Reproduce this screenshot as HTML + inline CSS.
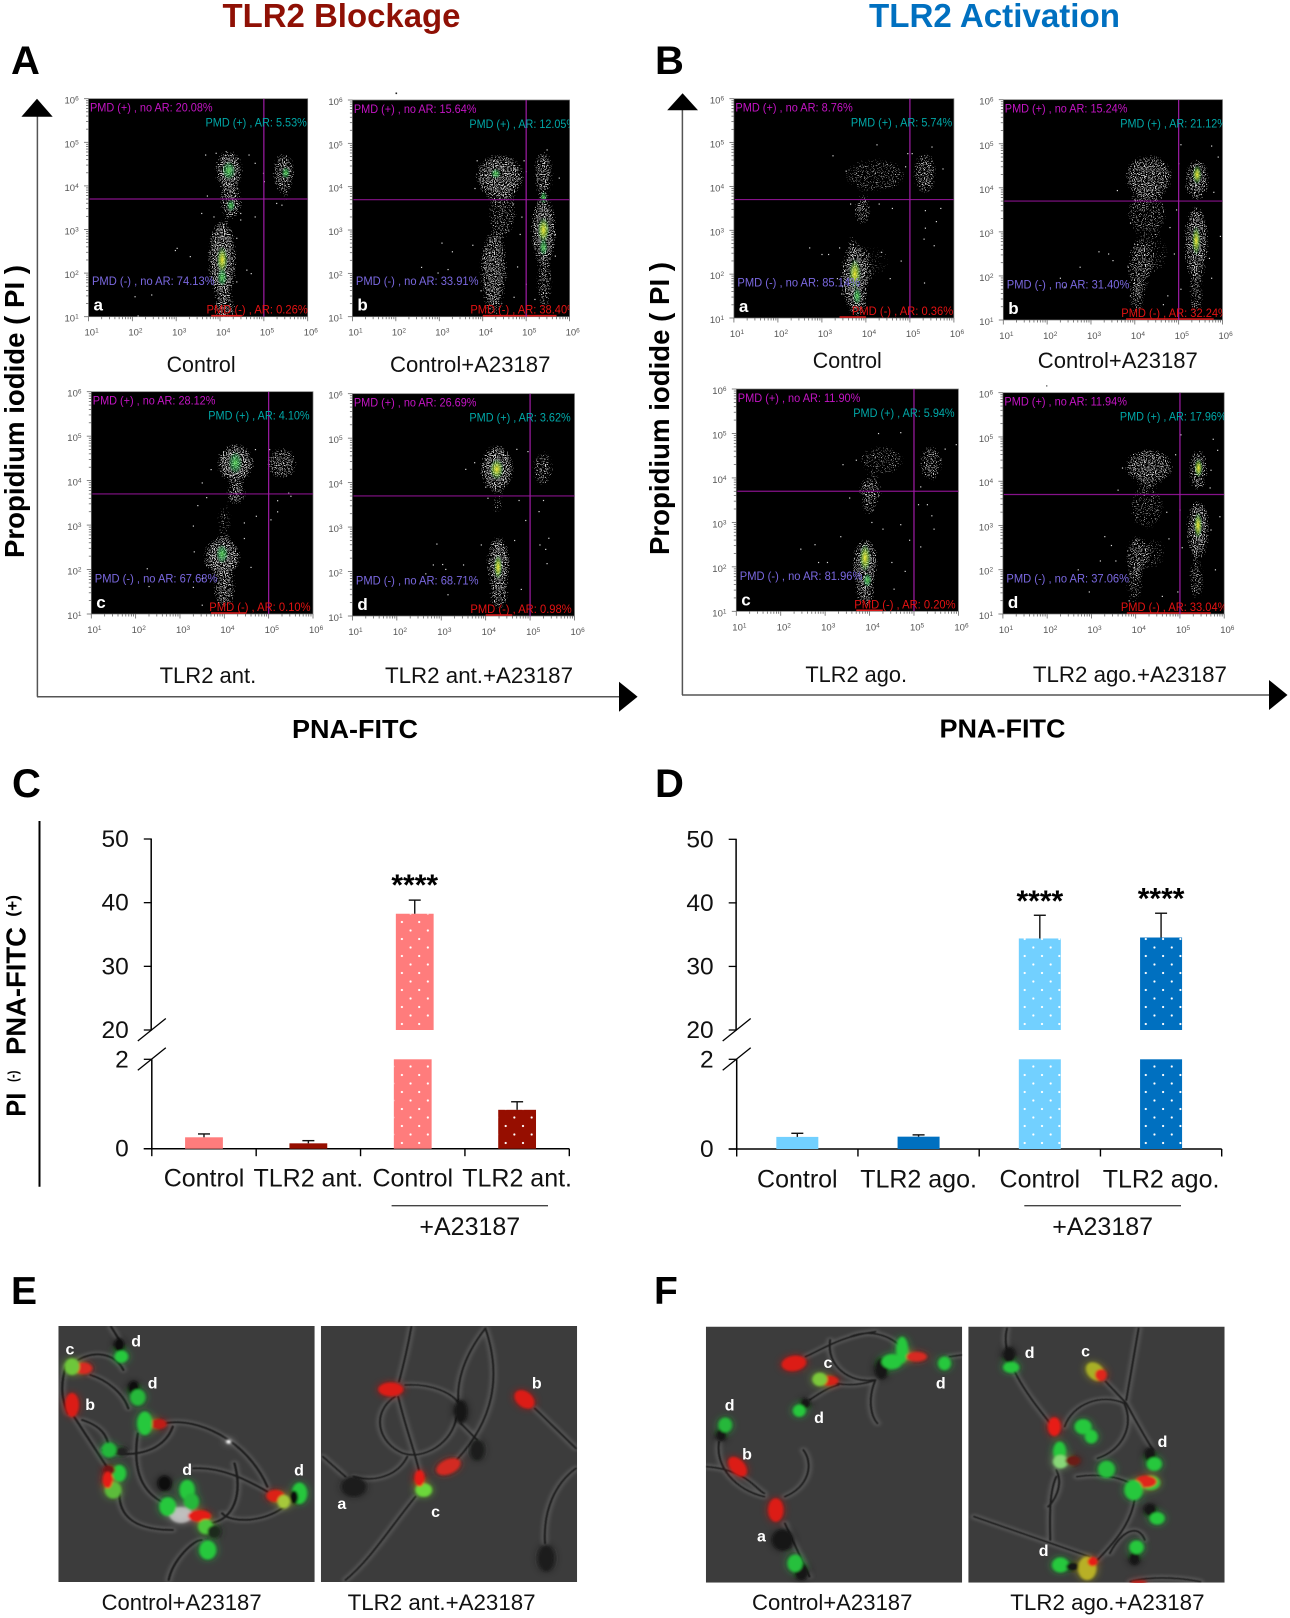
<!DOCTYPE html>
<html lang="en">
<head>
<meta charset="utf-8">
<title>TLR2 Blockage and Activation figure</title>
<style>
html,body{margin:0;padding:0;background:#fff;}
svg{display:block;}
text{font-family:"Liberation Sans",sans-serif;}
</style>
</head>
<body>
<svg id="figure" xmlns="http://www.w3.org/2000/svg" width="1290" height="1618" viewBox="0 0 1290 1618">
<defs>
  <filter id="speckle" x="-30%" y="-30%" width="160%" height="160%" color-interpolation-filters="sRGB">
    <feGaussianBlur in="SourceGraphic" stdDeviation="4" result="blob"/>
    <feTurbulence type="fractalNoise" baseFrequency="0.9" numOctaves="1" seed="11" result="noise"/>
    <feColorMatrix in="noise" type="matrix" values="0 0 0 0 0.8  0 0 0 0 0.8  0 0 0 0 0.8  3.2 0 0 0 -1.33" result="dots"/>
    <feComposite in="dots" in2="blob" operator="in" result="masked"/>
    <feComponentTransfer in="masked"><feFuncA type="linear" slope="8" intercept="-2.4"/></feComponentTransfer>
  </filter>
  <radialGradient id="hot-green"><stop offset="0" stop-color="#5fe05a" stop-opacity=".85"/><stop offset=".6" stop-color="#2fc85a" stop-opacity=".4"/><stop offset="1" stop-color="#2fc85a" stop-opacity="0"/></radialGradient>
  <radialGradient id="hot-yellow"><stop offset="0" stop-color="#f6ee30" stop-opacity=".95"/><stop offset=".5" stop-color="#a4e040" stop-opacity=".6"/><stop offset="1" stop-color="#2fc85a" stop-opacity="0"/></radialGradient>
  <pattern id="bar-dots" patternUnits="userSpaceOnUse" width="17.3" height="17"><circle cx="4" cy="4" r="1.1" fill="#fff"/><circle cx="12.65" cy="12.5" r="1.1" fill="#fff"/></pattern>
  <filter id="soft" x="-20%" y="-20%" width="140%" height="140%">
    <feGaussianBlur in="SourceGraphic" stdDeviation="11" result="glow"/>
    <feGaussianBlur in="SourceGraphic" stdDeviation="3" result="core"/>
    <feComponentTransfer in="glow" result="glowDim"><feFuncA type="linear" slope=".75"/></feComponentTransfer>
    <feMerge><feMergeNode in="glowDim"/><feMergeNode in="core"/></feMerge>
  </filter>
  <filter id="soft-wide" x="-5%" y="-5%" width="110%" height="110%"><feGaussianBlur stdDeviation="5"/></filter>
  <filter id="tail-blur" x="-5%" y="-5%" width="110%" height="110%"><feGaussianBlur stdDeviation="1.4"/></filter>
  <clipPath id="clip-e1"><rect x="142" y="198" width="623" height="768"/></clipPath>
  <clipPath id="clip-e2"><rect x="780" y="198" width="623" height="768"/></clipPath>
  <clipPath id="clip-f1"><rect x="148" y="200" width="623" height="768"/></clipPath>
  <clipPath id="clip-f2"><rect x="786" y="200" width="623" height="768"/></clipPath>
  <g id="tails-e1" fill="none" stroke-linecap="round">
    <path d="M190,300 C230,270 280,280 300,330"/><path d="M220,345 C260,360 300,400 312,445"/><path d="M400,490 C480,470 600,540 650,680"/><path d="M180,470 L270,640"/><path d="M335,520 C320,640 350,700 400,730"/><path d="M470,625 C540,620 600,660 650,695"/><path d="M700,730 C650,790 560,790 540,760"/><path d="M410,960 C420,900 470,840 490,840"/><path d="M290,700 C290,780 340,810 420,810"/><path d="M570,610 C590,700 570,780 510,790"/><path d="M250,570 C330,600 400,570 420,500"/><path d="M270,200 L295,250"/><path d="M160,320 C140,400 160,440 165,460"/><path d="M200,480 C250,500 260,530 265,560"/>
  </g>
  <g id="tails-e2" fill="none" stroke-linecap="round">
    <path d="M985,375 C1050,370 1100,400 1115,430"/><path d="M1300,445 L1400,565"/><path d="M1120,490 L1160,540"/><path d="M1180,205 C1120,300 1110,380 1115,430"/><path d="M1180,205 C1220,350 1200,480 1110,600"/><path d="M968,410 C985,500 1010,580 1020,640"/><path d="M1110,470 C1100,550 1030,600 980,580 C920,550 900,460 960,410"/><path d="M785,590 L840,650"/><path d="M1010,710 C950,800 900,900 840,960"/><path d="M860,650 C920,670 970,640 990,590"/><path d="M1325,850 C1320,750 1350,670 1400,625"/><path d="M1000,200 C990,270 980,320 970,365"/>
  </g>
  <g id="tails-f1" fill="none" stroke-linecap="round">
    <path d="M390,290 C430,270 470,230 560,215"/><path d="M465,370 C500,380 540,370 560,360"/><path d="M560,360 C540,420 550,470 565,490"/><path d="M450,240 C440,320 500,370 555,360"/><path d="M500,230 C560,200 620,240 640,290"/><path d="M400,420 C430,395 450,380 470,375"/><path d="M180,545 C170,620 220,690 290,710"/><path d="M150,620 C250,630 270,690 290,700"/><path d="M340,710 C400,680 410,610 385,570"/><path d="M340,790 L400,950"/><path d="M740,290 L770,285"/>
  </g>
  <g id="tails-f2" fill="none" stroke-linecap="round">
    <path d="M880,205 C860,300 940,420 985,490"/><path d="M1120,365 L1170,430 C1200,500 1230,560 1235,570"/><path d="M1020,500 C1040,430 1110,400 1165,430"/><path d="M1165,430 C1190,500 1160,570 1100,595"/><path d="M1200,205 L1170,420"/><path d="M1000,630 C1020,680 990,730 980,740"/><path d="M1050,650 C1100,640 1150,650 1180,670"/><path d="M800,770 L1080,890"/><path d="M1130,880 C1160,810 1200,790 1215,840"/><path d="M1190,720 C1180,800 1130,860 1100,900"/><path d="M1000,650 C980,700 985,800 985,840"/><path d="M1180,965 C1220,950 1290,950 1350,965"/>
  </g>
</defs>

<text x="222.5" y="27" font-size="33" font-weight="bold" fill="#8f1005" textLength="238" lengthAdjust="spacingAndGlyphs">TLR2 Blockage</text>
<text x="869" y="27" font-size="33" font-weight="bold" fill="#0070c0" textLength="251" lengthAdjust="spacingAndGlyphs">TLR2 Activation</text>

<text x="11" y="74" font-size="40" font-weight="bold">A</text>
<text x="655" y="74" font-size="40" font-weight="bold">B</text>
<text x="12" y="797" font-size="40" font-weight="bold">C</text>
<text x="655" y="797" font-size="40" font-weight="bold">D</text>
<text x="11" y="1304" font-size="39" font-weight="bold">E</text>
<text x="654" y="1304" font-size="39" font-weight="bold">F</text>

<rect x="395.5" y="92.5" width="1.6" height="1.6" fill="#222"/>
<rect x="1046" y="385.3" width="1.4" height="1.2" fill="#555"/>

<g>
  <line x1="37.4" y1="112" x2="37.4" y2="696.7" stroke="#555" stroke-width="1.5"/>
  <line x1="37" y1="696.7" x2="622" y2="696.7" stroke="#555" stroke-width="1.5"/>
  <polygon points="37,98.7 52.7,116.7 21.4,116.7" fill="#000"/>
  <polygon points="619,681.7 637.6,696.7 619,711.7" fill="#000"/>
  <text transform="translate(24,558) rotate(-90)" font-size="27.6" font-weight="bold" textLength="293" lengthAdjust="spacingAndGlyphs">Propidium iodide ( PI )</text>
  <text x="292" y="738" font-size="25.5" font-weight="bold" textLength="126" lengthAdjust="spacingAndGlyphs">PNA-FITC</text>
</g>
<g>
  <line x1="682.4" y1="106" x2="682.4" y2="695" stroke="#555" stroke-width="1.5"/>
  <line x1="682" y1="695" x2="1272" y2="695" stroke="#555" stroke-width="1.5"/>
  <polygon points="682.6,93.3 698,110.3 667.2,110.3" fill="#000"/>
  <polygon points="1269,680 1287.5,695 1269,710" fill="#000"/>
  <text transform="translate(669,555) rotate(-90)" font-size="27.6" font-weight="bold" textLength="293" lengthAdjust="spacingAndGlyphs">Propidium iodide ( PI )</text>
  <text x="939.5" y="737.7" font-size="25.5" font-weight="bold" textLength="126" lengthAdjust="spacingAndGlyphs">PNA-FITC</text>
</g>

<g font-size="22" fill="#111">
  <text x="166.6" y="372" textLength="69" lengthAdjust="spacingAndGlyphs">Control</text>
  <text x="390" y="372" textLength="160.4" lengthAdjust="spacingAndGlyphs">Control+A23187</text>
  <text x="159.6" y="683" textLength="96.7" lengthAdjust="spacingAndGlyphs">TLR2 ant.</text>
  <text x="385" y="683" textLength="188" lengthAdjust="spacingAndGlyphs">TLR2 ant.+A23187</text>
  <text x="812.8" y="368" textLength="69" lengthAdjust="spacingAndGlyphs">Control</text>
  <text x="1037.8" y="368" textLength="160" lengthAdjust="spacingAndGlyphs">Control+A23187</text>
  <text x="805.4" y="682" textLength="101.6" lengthAdjust="spacingAndGlyphs">TLR2 ago.</text>
  <text x="1032.9" y="682" textLength="194" lengthAdjust="spacingAndGlyphs">TLR2 ago.+A23187</text>
</g>

<g id="flow-layer"></g>

<g font-weight="bold">
  <line x1="39.5" y1="821" x2="39.5" y2="1186.7" stroke="#000" stroke-width="2"/>
  <text transform="translate(25.5,1116.7) rotate(-90)" font-size="28" textLength="24" lengthAdjust="spacingAndGlyphs">PI</text>
  <text transform="translate(17.5,1082) rotate(-90)" font-size="14" textLength="11.5" lengthAdjust="spacingAndGlyphs">(-)</text>
  <text transform="translate(25.5,1055) rotate(-90)" font-size="28" textLength="128" lengthAdjust="spacingAndGlyphs">PNA-FITC</text>
  <text transform="translate(18,916.7) rotate(-90)" font-size="17" textLength="21.7" lengthAdjust="spacingAndGlyphs">(+)</text>
</g>
<g id="chart-c"></g>
<g id="chart-d"></g>

<g>
  <g transform="translate(0,1260) scale(.41135,.33333)">
    <g clip-path="url(#clip-e1)">
      <rect x="142" y="198" width="623" height="768" fill="#3c3c3c"/>
      <use href="#tails-e1" stroke="#a0a0a0" stroke-width="16" opacity=".3" filter="url(#soft-wide)"/>
      <use href="#tails-e1" stroke="#1f1f1f" stroke-width="6" filter="url(#tail-blur)"/>
      <g filter="url(#soft)">
        <ellipse cx="440" cy="765" rx="28" ry="24" fill="#ddd" opacity=".65"/>
        <ellipse cx="290" cy="255" rx="12" ry="20" fill="#111"/><ellipse cx="295" cy="290" rx="16" ry="18" fill="#25c93c"/>
        <ellipse cx="325" cy="385" rx="13" ry="22" fill="#111"/><ellipse cx="335" cy="412" rx="18" ry="24" fill="#25b83a"/>
        <ellipse cx="202" cy="325" rx="22" ry="17" fill="#d92a20"/><ellipse cx="175" cy="320" rx="18" ry="25" fill="#6ec73a"/>
        <ellipse cx="175" cy="435" rx="16" ry="36" fill="#dc1e18"/>
        <ellipse cx="385" cy="492" rx="20" ry="15" fill="#c01a18"/><ellipse cx="352" cy="490" rx="18" ry="35" fill="#28c83c"/>
        <ellipse cx="295" cy="575" rx="15" ry="12" fill="#222"/><ellipse cx="265" cy="570" rx="18" ry="22" fill="#22b83a"/>
        <ellipse cx="290" cy="640" rx="16" ry="25" fill="#25c83c"/><ellipse cx="265" cy="630" rx="15" ry="14" fill="#701818"/>
        <ellipse cx="275" cy="690" rx="20" ry="25" fill="#5cbc3a"/><ellipse cx="262" cy="660" rx="12" ry="25" fill="#e81e18"/>
        <ellipse cx="400" cy="670" rx="16" ry="22" fill="#111"/>
        <ellipse cx="455" cy="690" rx="18" ry="30" fill="#25c83c"/><ellipse cx="465" cy="725" rx="18" ry="25" fill="#25b83a"/>
        <ellipse cx="408" cy="740" rx="20" ry="28" fill="#25c83c"/>
        <ellipse cx="485" cy="768" rx="28" ry="17" fill="#e41e18"/><ellipse cx="500" cy="800" rx="18" ry="22" fill="#4ec83a"/>
        <ellipse cx="520" cy="815" rx="15" ry="18" fill="#1c2c1c"/><ellipse cx="505" cy="870" rx="20" ry="28" fill="#25c83c"/>
        <ellipse cx="670" cy="708" rx="22" ry="18" fill="#dc2018"/><ellipse cx="690" cy="725" rx="15" ry="20" fill="#a6c83a"/>
        <ellipse cx="728" cy="700" rx="18" ry="32" fill="#25c83c"/><ellipse cx="715" cy="712" rx="10" ry="20" fill="#111"/>
        <ellipse cx="556" cy="545" rx="6" ry="6" fill="#fff"/>
      </g>
    </g>
    <g clip-path="url(#clip-e2)">
      <rect x="780" y="198" width="623" height="768" fill="#3c3c3c"/>
      <use href="#tails-e2" stroke="#a0a0a0" stroke-width="16" opacity=".3" filter="url(#soft-wide)"/>
      <use href="#tails-e2" stroke="#1f1f1f" stroke-width="5" filter="url(#tail-blur)"/>
      <g filter="url(#soft)">
        <ellipse cx="950" cy="388" rx="30" ry="20" fill="#dc1e18"/>
        <ellipse cx="1275" cy="418" rx="20" ry="30" fill="#dc1e18" transform="rotate(-35 1275 418)"/>
        <ellipse cx="1090" cy="620" rx="32" ry="20" fill="#d22a20" transform="rotate(-35 1090 620)"/>
        <ellipse cx="1030" cy="690" rx="20" ry="20" fill="#6cd83a"/><ellipse cx="1020" cy="655" rx="12" ry="25" fill="#e81e18"/>
        <ellipse cx="1120" cy="455" rx="14" ry="35" fill="#161616"/><ellipse cx="1160" cy="570" rx="15" ry="30" fill="#1a1f1a"/>
        <ellipse cx="860" cy="680" rx="28" ry="28" fill="#1a1a1a"/><ellipse cx="1328" cy="895" rx="18" ry="38" fill="#1c1c1c"/>
      </g>
    </g>
  </g>
  <text x="69.9" y="1354.3" font-size="16" font-weight="bold" fill="#fff" text-anchor="middle">c</text>
  <text x="136.2" y="1346.7" font-size="16" font-weight="bold" fill="#fff" text-anchor="middle">d</text>
  <text x="152.6" y="1388.7" font-size="16" font-weight="bold" fill="#fff" text-anchor="middle">d</text>
  <text x="90.1" y="1410" font-size="16" font-weight="bold" fill="#fff" text-anchor="middle">b</text>
  <text x="187.2" y="1475" font-size="16" font-weight="bold" fill="#fff" text-anchor="middle">d</text>
  <text x="299" y="1475.3" font-size="16" font-weight="bold" fill="#fff" text-anchor="middle">d</text>
  <text x="536.8" y="1388.7" font-size="16" font-weight="bold" fill="#fff" text-anchor="middle">b</text>
  <text x="341.8" y="1509" font-size="16" font-weight="bold" fill="#fff" text-anchor="middle">a</text>
  <text x="435.6" y="1517" font-size="16" font-weight="bold" fill="#fff" text-anchor="middle">c</text>
  <text x="101.6" y="1610" font-size="22" fill="#111" textLength="160" lengthAdjust="spacingAndGlyphs">Control+A23187</text>
  <text x="347.6" y="1610" font-size="22" fill="#111" textLength="188" lengthAdjust="spacingAndGlyphs">TLR2 ant.+A23187</text>
</g>

<g>
  <g transform="translate(645,1260) scale(.41135,.33333)">
    <g clip-path="url(#clip-f1)">
      <rect x="148" y="200" width="623" height="768" fill="#3c3c3c"/>
      <use href="#tails-f1" stroke="#a0a0a0" stroke-width="16" opacity=".3" filter="url(#soft-wide)"/>
      <use href="#tails-f1" stroke="#1f1f1f" stroke-width="5" filter="url(#tail-blur)"/>
      <g filter="url(#soft)">
        <ellipse cx="362" cy="310" rx="30" ry="22" fill="#dc1e18" transform="rotate(-15 362 310)"/>
        <ellipse cx="445" cy="362" rx="25" ry="15" fill="#d82018"/><ellipse cx="425" cy="358" rx="18" ry="20" fill="#7cc83a"/>
        <ellipse cx="625" cy="270" rx="14" ry="40" fill="#28c83c"/><ellipse cx="575" cy="325" rx="15" ry="32" fill="#161616"/>
        <ellipse cx="600" cy="305" rx="25" ry="22" fill="#28c83c"/><ellipse cx="660" cy="290" rx="25" ry="14" fill="#d82a20"/>
        <ellipse cx="728" cy="310" rx="15" ry="20" fill="#28c83c"/><ellipse cx="390" cy="430" rx="12" ry="15" fill="#181818"/>
        <ellipse cx="375" cy="452" rx="15" ry="18" fill="#28c83c"/>
        <ellipse cx="185" cy="525" rx="12" ry="18" fill="#181818"/><ellipse cx="195" cy="495" rx="16" ry="22" fill="#25b83a"/>
        <ellipse cx="225" cy="620" rx="18" ry="32" fill="#dc1e18" transform="rotate(-30 225 620)"/>
        <ellipse cx="318" cy="750" rx="18" ry="35" fill="#dc1e18"/><ellipse cx="335" cy="840" rx="25" ry="30" fill="#161616"/>
        <ellipse cx="380" cy="935" rx="16" ry="25" fill="#161616"/><ellipse cx="365" cy="910" rx="18" ry="26" fill="#28c03c"/>
      </g>
    </g>
    <g clip-path="url(#clip-f2)">
      <rect x="786" y="200" width="623" height="768" fill="#3c3c3c"/>
      <use href="#tails-f2" stroke="#a0a0a0" stroke-width="16" opacity=".3" filter="url(#soft-wide)"/>
      <use href="#tails-f2" stroke="#1f1f1f" stroke-width="5" filter="url(#tail-blur)"/>
      <g filter="url(#soft)">
        <ellipse cx="885" cy="285" rx="14" ry="24" fill="#141414"/><ellipse cx="890" cy="322" rx="19" ry="16" fill="#25c83c"/>
        <ellipse cx="1095" cy="335" rx="20" ry="30" fill="#a8b028" transform="rotate(-30 1095 335)"/><ellipse cx="1108" cy="345" rx="14" ry="18" fill="#e0281c"/>
        <ellipse cx="995" cy="500" rx="15" ry="28" fill="#e81e18"/><ellipse cx="1065" cy="500" rx="20" ry="22" fill="#28c83c"/>
        <ellipse cx="1085" cy="530" rx="15" ry="20" fill="#28c83c"/><ellipse cx="1008" cy="575" rx="15" ry="30" fill="#28c83c"/>
        <ellipse cx="1010" cy="605" rx="18" ry="20" fill="#88d878"/><ellipse cx="1040" cy="602" rx="18" ry="14" fill="#6c1c18"/>
        <ellipse cx="1122" cy="628" rx="20" ry="25" fill="#28c03c"/>
        <ellipse cx="1228" cy="585" rx="13" ry="22" fill="#141414"/><ellipse cx="1238" cy="612" rx="18" ry="20" fill="#28c83c"/>
        <ellipse cx="1228" cy="668" rx="24" ry="22" fill="#28c83c"/><ellipse cx="1218" cy="665" rx="26" ry="18" fill="#e0281c"/>
        <ellipse cx="1188" cy="690" rx="22" ry="30" fill="#28c83c"/>
        <ellipse cx="1228" cy="750" rx="14" ry="18" fill="#141414"/><ellipse cx="1245" cy="775" rx="18" ry="18" fill="#28c83c"/>
        <ellipse cx="1190" cy="895" rx="12" ry="20" fill="#141414"/><ellipse cx="1195" cy="862" rx="17" ry="20" fill="#28c83c"/>
        <ellipse cx="1010" cy="915" rx="20" ry="22" fill="#28c83c"/><ellipse cx="1040" cy="920" rx="16" ry="12" fill="#141414"/>
        <ellipse cx="1075" cy="925" rx="22" ry="35" fill="#b8b028"/><ellipse cx="1088" cy="905" rx="12" ry="14" fill="#e81e18"/>
        <ellipse cx="1200" cy="966" rx="20" ry="5" fill="#c01a18"/>
      </g>
    </g>
  </g>
  <text x="828" y="1368" font-size="16" font-weight="bold" fill="#fff" text-anchor="middle">c</text>
  <text x="940.8" y="1388.7" font-size="16" font-weight="bold" fill="#fff" text-anchor="middle">d</text>
  <text x="729.7" y="1410.3" font-size="16" font-weight="bold" fill="#fff" text-anchor="middle">d</text>
  <text x="819" y="1423" font-size="16" font-weight="bold" fill="#fff" text-anchor="middle">d</text>
  <text x="747" y="1459.7" font-size="16" font-weight="bold" fill="#fff" text-anchor="middle">b</text>
  <text x="761.4" y="1541.7" font-size="16" font-weight="bold" fill="#fff" text-anchor="middle">a</text>
  <text x="1029.6" y="1358" font-size="16" font-weight="bold" fill="#fff" text-anchor="middle">d</text>
  <text x="1085.6" y="1356.3" font-size="16" font-weight="bold" fill="#fff" text-anchor="middle">c</text>
  <text x="1162.5" y="1447" font-size="16" font-weight="bold" fill="#fff" text-anchor="middle">d</text>
  <text x="1043.6" y="1556" font-size="16" font-weight="bold" fill="#fff" text-anchor="middle">d</text>
  <text x="752" y="1610" font-size="22" fill="#111" textLength="160.4" lengthAdjust="spacingAndGlyphs">Control+A23187</text>
  <text x="1010.3" y="1610" font-size="22" fill="#111" textLength="194.2" lengthAdjust="spacingAndGlyphs">TLR2 ago.+A23187</text>
</g>
</svg>

<script>
// ---------- Flow cytometry data (log10 units) ----------
const decadeExponents = [1, 2, 3, 4, 5, 6];
const minorMultipliers = [2, 3, 4, 5, 6, 7, 8, 9];
const gateLogX = 5;
const gateLogY = 3.7;

// percent readouts: PMD(+) no AR, PMD(+) AR, PMD(-) no AR, PMD(-) AR
const percentAa = ['20.08', '5.53', '74.13', '0.26'];
const percentAb = ['15.64', '12.05', '33.91', '38.40'];
const percentAc = ['28.12', '4.10', '67.68', '0.10'];
const percentAd = ['26.69', '3.62', '68.71', '0.98'];
const percentBa = ['8.76', '5.74', '85.14', '0.36'];
const percentBb = ['15.24', '21.12', '31.40', '32.24'];
const percentBc = ['11.90', '5.94', '81.96', '0.20'];
const percentBd = ['11.94', '17.96', '37.06', '33.04'];

// dense populations: [logX, logY, spreadX, spreadY, density]
const clustersAa = [[4.2,4.35,.24,.38,1],[4.25,3.65,.2,.35,.85],[5.45,4.3,.2,.38,.85],[5.5,3.75,.08,.2,.55],[4.05,2.3,.25,.75,1],[4.1,1.2,.2,.3,.8]];
const clustersAb = [[4.39,4.23,.45,.42,.9],[4.45,3.4,.3,.5,.55],[4.25,2.1,.25,.7,.85],[4.25,1.3,.2,.3,.55],[5.4,4.3,.17,.45,.85],[5.4,3.0,.22,.65,1],[5.42,1.8,.15,.55,.7]];
const clustersAc = [[4.25,4.39,.33,.35,1],[4.27,3.71,.18,.2,.85],[4.0,3.1,.18,.35,.45],[5.3,4.39,.28,.3,.75],[3.95,2.29,.33,.35,1],[4.0,1.6,.2,.4,.8]];
const clustersAd = [[4.25,4.32,.3,.42,1],[4.27,3.53,.12,.25,.55],[4.29,2.18,.2,.5,1],[4.3,1.5,.17,.3,.8],[5.29,4.32,.2,.35,.65],[5.38,3.0,.05,.18,.45]];
const clustersBa = [[4.21,4.26,.6,.35,.5],[5.34,4.3,.22,.4,.7],[3.92,3.46,.17,.3,.7],[3.75,1.94,.25,.6,1],[3.8,1.33,.17,.25,.9],[3.7,2.6,.12,.3,.55],[4.2,2.3,.35,.35,.38]];
const clustersBb = [[4.32,4.25,.45,.4,.8],[4.27,3.42,.4,.45,.55],[4.09,2.2,.22,.55,.7],[4.46,2.5,.3,.4,.42],[4.04,1.45,.15,.3,.6],[5.42,4.18,.22,.4,.85],[5.4,2.74,.22,.7,.9],[5.4,1.6,.14,.45,.65]];
const clustersBc = [[4.27,4.4,.45,.3,.5],[4.02,3.73,.22,.25,.75],[3.99,3.35,.15,.2,.6],[5.38,4.33,.22,.35,.65],[3.9,2.08,.22,.45,1],[3.9,1.48,.16,.3,.9]];
const clustersBd = [[4.3,4.33,.45,.33,.8],[4.25,3.42,.35,.45,.5],[4.02,2.3,.2,.4,.75],[4.44,2.37,.25,.35,.42],[3.97,1.62,.18,.35,.55],[5.41,4.25,.17,.4,.85],[5.41,2.9,.2,.55,.95],[5.37,1.77,.15,.4,.65]];

// density peaks: [logX, logY, spreadX, spreadY, isYellow]
const peaksAa = [[4.2,4.35,.16,.22,0],[4.25,3.55,.1,.14,0],[5.5,4.3,.1,.14,0],[4.05,2.3,.13,.32,1],[4.05,1.9,.12,.2,0]];
const peaksAb = [[5.4,3.0,.14,.3,1],[5.4,2.6,.1,.2,0],[4.3,4.3,.12,.12,0],[5.4,3.75,.08,.15,0]];
const peaksAc = [[4.25,4.4,.16,.26,0],[3.95,2.35,.14,.22,0]];
const peaksAd = [[4.25,4.3,.16,.24,1],[4.28,2.1,.1,.28,1]];
const peaksBa = [[3.75,2.0,.14,.36,1],[3.8,1.5,.1,.2,0]];
const peaksBb = [[5.42,4.3,.11,.22,1],[5.4,2.8,.1,.34,1]];
const peaksBc = [[3.9,2.2,.13,.32,1],[3.95,1.7,.1,.16,0]];
const peaksBd = [[5.42,4.3,.1,.22,1],[5.41,3.0,.1,.3,1]];

// isolated events: [logX, logY]
const eventsAa = [[3.02,2.57],[2.98,2.52],[3.32,2.38],[2.06,1.46],[2.44,1.5],[2.13,1.02],[3.67,4.71],[3.58,3.37],[3.71,3.77],[4.8,3.29],[4.47,3.22],[4.99,4.29],[4.8,4.52],[5.6,4.34],[5.01,4.1],[4.61,2.07],[4.38,2.8],[4.38,1.8],[4.71,1.99],[3.86,3.29],[4.47,3.37],[3.91,4.75],[5.29,3.6],[5.41,3.56],[4.41,4.63],[4.66,4.71]];
const eventsAb = [[3.06,2.7],[3.3,2.5],[2.59,2.14],[2.97,2.01],[3.2,2.09],[3.77,2.65],[3.82,3.96],[5,4.35],[5.48,4.85],[5.67,2.9],[5.76,4.2],[4.9,3.3],[4.8,2.15],[3.96,1.6],[5,1.75],[4.86,2.9],[4.72,1.45],[5.67,2.4],[5.2,1.4],[3.87,4.6],[4.7,3.6],[4.95,4.6]];
const eventsAc = [[2.26,2.02],[2.3,1.62],[3.4,3.44],[3.5,3.95],[3.6,3.62],[3.3,2.98],[4.72,3.2],[5.2,3.55],[5.05,3.12],[5.2,3.3],[3.32,2.4],[3.5,1.8],[3.3,1.6],[4.45,2.7],[4.6,2.05],[4.45,3.05],[4.7,4.7],[5.5,3.65],[5.45,3.72],[5.02,4.7],[3.7,4.25],[3.6,2.1],[3.5,1.2]];
const eventsAd = [[2.9,2.62],[2.82,2.15],[3.03,2.16],[3.1,2.05],[2.65,1.95],[3.5,2.15],[3.15,1.48],[3.75,4.45],[4.0,3.9],[4.05,3.65],[4.9,3.15],[5.2,3.35],[5.3,3.6],[5.42,2.75],[5.35,2.5],[5.38,2.18],[5.22,2.6],[4.8,1.6],[4.65,2.7],[3.9,2.6],[4.95,4.7],[4.7,4.75],[3.55,4.3],[4.75,3.6]];
const eventsBa = [[2.72,2.6],[3.0,2.45],[3.15,2.45],[3.35,1.9],[3.4,2.6],[3.45,1.55],[3.65,3.6],[3.25,4.7],[4.3,3.6],[4.6,3.5],[5.35,3.05],[5.32,2.8],[5.6,3.2],[5.7,3.5],[5.55,2.65],[5.33,1.8],[4.8,2.3],[4.55,1.9],[4.35,2.5],[5.5,4.9],[5.35,3.45],[5.75,4.4],[4.9,4.45],[4.95,4.75],[5.05,4.75],[4.25,4.95],[3.55,4.35]];
const eventsBb = [[2.3,1.95],[2.4,1.75],[2.75,2.2],[3.18,2.55],[3.4,2.5],[3.5,2.35],[3.6,3.94],[3.9,3.2],[4.9,2.5],[4.95,3.5],[5.0,4.55],[5.05,4.98],[5.75,4.95],[5.9,4.7],[5.8,3.9],[5.95,2.9],[5.75,1.95],[5.05,1.7],[4.8,3.1],[4.75,1.55],[3.85,2.2],[3.9,1.55],[5.7,2.4],[4.65,1.35]];
const eventsBc = [[2.45,2.4],[2.77,2.5],[2.85,2.1],[3.05,2.1],[3.35,2.68],[3.55,3.55],[3.4,4.3],[3.7,4.4],[4.05,3.0],[4.3,2.85],[4.7,2.95],[4.9,2.6],[4.8,1.9],[4.55,1.5],[5.15,2.45],[5.1,3.4],[5.3,3.4],[5.45,2.85],[5.4,3.15],[5.95,4.75],[5.7,4.65],[5.6,4.4],[4.2,5],[4.7,5.02],[5.15,3.8],[4.5,2.1],[3.95,1.15]];
const eventsBd = [[2.7,2.0],[2.95,1.5],[3.2,2.2],[3.3,2.75],[3.45,2.55],[3.55,2.2],[3.6,3.8],[3.7,4.3],[4.9,4.6],[5.02,5.05],[5.75,4.95],[5.85,4.7],[5.9,3.2],[5.7,2.9],[5.68,3.85],[5.05,2.5],[4.95,1.5],[4.75,2.7],[4.7,3.3],[5.0,3.35],[5.8,2.0],[4.6,1.4],[3.85,1.3],[5.7,4.25]];

// events piled on the lower axis: [fromLogX, toLogX]
const edgeAa = [3.8, 4.5];
const edgeAb = [4.0, 5.7];
const edgeAc = [3.7, 4.5];
const edgeAd = [4.0, 4.6];
const edgeBa = [3.4, 4.0];
const edgeBb = [3.8, 5.8];
const edgeBc = [3.7, 4.3];
const edgeBd = [3.8, 5.7];

// ---------- Bar chart data ----------
const categoriesC = ['Control', 'TLR2 ant.', 'Control', 'TLR2 ant.'];
const valuesC = [0.255, 0.12, 38.26, 0.87];
const errorsC = [0.075, 0.06, 2.14, 0.18];
const starsC = ['', '', '****', ''];
const categoriesD = ['Control', 'TLR2 ago.', 'Control', 'TLR2 ago.'];
const valuesD = [0.27, 0.275, 34.4, 34.55];
const errorsD = [0.08, 0.04, 3.65, 3.82];
const starsD = ['', '', '****', '****'];
const tickLabels = [50, 40, 30, 20, 2, 0];

// ---------- Helpers ----------
const NS = 'http://www.w3.org/2000/svg';
function make(tag, attrs, parent) {
  const node = document.createElementNS(NS, tag);
  for (const key in attrs) node.setAttribute(key, attrs[key]);
  parent.appendChild(node);
  return node;
}

// ---------- Flow plot ----------
let flowCount = 0;
const spreadFactor = 1.2;
function drawFlow(panelName, box, letter, percents, clusters, peaks, events, edge) {
  flowCount += 1;
  const layer = document.getElementById('flow-layer');
  const width = box.right - box.left;
  const height = box.bottom - box.top;
  const sx = v => box.left + (v - 1) / 5 * width;
  const sy = v => box.bottom - (v - 1) / 5 * height;

  const group = make('g', {}, layer);
  
  

  const clip = make('clipPath', {id: 'flow-clip-' + flowCount}, group);
  make('rect', {x: box.left, y: box.top, width: width, height: height}, clip);

  const bg = make('rect', {x: box.left, y: box.top, width: width, height: height, fill: '#000', stroke: '#777', 'stroke-width': 0.7}, group);
  
  

  const inner = make('g', {'clip-path': 'url(#flow-clip-' + flowCount + ')'}, group);

  const density = make('g', {filter: 'url(#speckle)'}, inner);
  
  
  clusters.forEach(c => {
    const blob = make('ellipse', {cx: sx(c[0]), cy: sy(c[1]), rx: spreadFactor * c[2] / 5 * width, ry: spreadFactor * c[3] / 5 * height, fill: '#fff', 'fill-opacity': c[4]}, density);
    
    
  });
  peaks.forEach(p => {
    const peak = make('ellipse', {cx: sx(p[0]), cy: sy(p[1]), rx: p[2] / 5 * width, ry: p[3] / 5 * height, fill: p[4] ? 'url(#hot-yellow)' : 'url(#hot-green)'}, inner);
    
    
  });
  events.forEach(e => {
    const dot = make('rect', {x: sx(e[0]) - 0.5, y: sy(e[1]) - 0.5, width: 1.2, height: 1.2, fill: '#d8d8d8'}, inner);
    
    
  });

  const edgeLine = make('line', {x1: sx(edge[0]), x2: sx(edge[1]), y1: box.bottom - 1, y2: box.bottom - 1, stroke: '#d81818', 'stroke-width': 1.6}, inner);
  
  

  const gateH = make('line', {x1: box.left + 1, x2: box.right, y1: sy(gateLogY), y2: sy(gateLogY), stroke: '#86128a', 'stroke-width': 1.2}, inner);
  
  
  const gateV = make('line', {x1: sx(gateLogX), x2: sx(gateLogX), y1: box.top, y2: box.bottom, stroke: '#a01ca6', 'stroke-width': 1.2}, inner);
  
  

  const quadrantText = [
    {s: 'PMD (+) , no AR: ' + percents[0] + '%', x: 1.5, y: box.top + 13, fill: '#c414c4', name: 'quadrant-upper-left-label'},
    {s: 'PMD (+) , AR: ' + percents[1] + '%', x: 117, y: box.top + 28, fill: '#00a8a8', name: 'quadrant-upper-right-label'},
    {s: 'PMD (-) , no AR: ' + percents[2] + '%', x: 3.5, y: box.bottom - 31.5, fill: '#7a68e0', name: 'quadrant-lower-left-label'},
    {s: 'PMD (-) , AR: ' + percents[3] + '%', x: 118, y: box.bottom - 3, fill: '#e41212', name: 'quadrant-lower-right-label'}
  ];
  quadrantText.forEach(q => {
    const label = make('text', {x: box.left + q.x, y: q.y, 'font-size': 12, fill: q.fill, textLength: (q.s.length * 5.33).toFixed(1), lengthAdjust: 'spacingAndGlyphs'}, inner);
    label.textContent = q.s;
    
    
  });

  const letterText = make('text', {x: box.left + 5, y: box.bottom - 6, 'font-size': 17, 'font-weight': 'bold', fill: '#fff'}, inner);
  letterText.textContent = letter;
  
  

  const axes = make('g', {stroke: '#666', 'stroke-width': 0.8}, group);
  
  
  decadeExponents.forEach(exp => {
    const xMajor = make('line', {x1: sx(exp), x2: sx(exp), y1: box.bottom, y2: box.bottom + 4.5}, axes);
    
    
    const yMajor = make('line', {x1: box.left - 4.5, x2: box.left, y1: sy(exp), y2: sy(exp)}, axes);
    
    
    if (exp < 6) {
      minorMultipliers.forEach(m => {
        const offset = Math.log10(m);
        const xMinor = make('line', {x1: sx(exp + offset), x2: sx(exp + offset), y1: box.bottom, y2: box.bottom + 2.5}, axes);
        
        
        const yMinor = make('line', {x1: box.left - 2.5, x2: box.left, y1: sy(exp + offset), y2: sy(exp + offset)}, axes);
        
        
      });
    }
    const xLabel = make('text', {x: sx(exp) - 4, y: box.bottom + 19, 'font-size': 9.5, fill: '#555'}, group);
    xLabel.textContent = '10';
    const xSup = make('tspan', {dy: -3, 'font-size': 6.5}, xLabel);
    xSup.textContent = String(exp);
    
    
    const yLabel = make('text', {x: box.left - 24, y: sy(exp) + 5, 'font-size': 9.5, fill: '#555'}, group);
    yLabel.textContent = '10';
    const ySup = make('tspan', {dy: -3, 'font-size': 6.5}, yLabel);
    ySup.textContent = String(exp);
    
    
  });
}

drawFlow('flow-plot-a-control', {left: 88.5, right: 307.7, top: 98.7, bottom: 316.7}, 'a', percentAa, clustersAa, peaksAa, eventsAa, edgeAa);
drawFlow('flow-plot-a-control-a23187', {left: 352.4, right: 569.6, top: 100, bottom: 316.7}, 'b', percentAb, clustersAb, peaksAb, eventsAb, edgeAb);
drawFlow('flow-plot-a-tlr2-ant', {left: 91.3, right: 313, top: 391.7, bottom: 614}, 'c', percentAc, clustersAc, peaksAc, eventsAc, edgeAc);
drawFlow('flow-plot-a-tlr2-ant-a23187', {left: 352.4, right: 574.5, top: 393.7, bottom: 616}, 'd', percentAd, clustersAd, peaksAd, eventsAd, edgeAd);
drawFlow('flow-plot-b-control', {left: 733.9, right: 953.9, top: 98.7, bottom: 318}, 'a', percentBa, clustersBa, peaksBa, eventsBa, edgeBa);
drawFlow('flow-plot-b-control-a23187', {left: 1003.3, right: 1222.5, top: 99.7, bottom: 320}, 'b', percentBb, clustersBb, peaksBb, eventsBb, edgeBb);
drawFlow('flow-plot-b-tlr2-ago', {left: 736.3, right: 958.4, top: 389, bottom: 611.3}, 'c', percentBc, clustersBc, peaksBc, eventsBc, edgeBc);
drawFlow('flow-plot-b-tlr2-ago-a23187', {left: 1002.9, right: 1224.2, top: 392.7, bottom: 614}, 'd', percentBd, clustersBd, peaksBd, eventsBd, edgeBd);

// ---------- Broken-axis bar chart ----------
function drawBars(rootId, geo, categories, values, errors, stars, colors, dotted) {
  const root = document.getElementById(rootId);
  const yAxis = v => v >= 20
    ? geo.y20 - (v - 20) * (geo.y20 - geo.y50) / 30
    : geo.y0 - v * (geo.y0 - geo.y2) / 2;
  const band = (geo.right - geo.left) / categories.length;
  const xCenter = i => geo.left + (i + 0.5) * band;

  const upperAxis = make('line', {x1: geo.left - 0.6, x2: geo.left - 0.6, y1: yAxis(50), y2: yAxis(20), stroke: '#000', 'stroke-width': 1.5}, root);
  
  
  const lowerAxis = make('line', {x1: geo.left, x2: geo.left, y1: yAxis(2), y2: yAxis(0), stroke: '#000', 'stroke-width': 1.5}, root);
  
  
  const xAxis = make('line', {x1: geo.left - 8, x2: geo.right, y1: yAxis(0), y2: yAxis(0), stroke: '#000', 'stroke-width': 1.5}, root);
  
  

  [20, 2].forEach(v => {
    const breakMark = make('line', {x1: geo.left - 14, y1: yAxis(v) + 11, x2: geo.left + 14, y2: yAxis(v) - 11.5, stroke: '#000', 'stroke-width': 1.3}, root);
    
    
  });

  tickLabels.forEach(v => {
    const tick = make('line', {x1: geo.left - 8, x2: geo.left, y1: yAxis(v), y2: yAxis(v), stroke: '#000', 'stroke-width': 1.3}, root);
    
    
    const label = make('text', {x: geo.left - 23, y: yAxis(v) + 8, 'font-size': 24.5, 'text-anchor': 'end', fill: '#111'}, root);
    label.textContent = String(v);
    
    
  });

  for (let i = 0; i <= categories.length; i++) {
    const xTick = make('line', {x1: geo.left + i * band, x2: geo.left + i * band, y1: yAxis(0), y2: yAxis(0) + 7.5, stroke: '#000', 'stroke-width': 1.4}, root);
    
    
  }

  categories.forEach((name, i) => {
    const cx = xCenter(i);
    const value = values[i];
    const segments = value > 2 ? [[0, 2, 0], [20, value, geo.upperShift]] : [[0, value, 0]];
    segments.forEach(seg => {
      const bar = make('rect', {x: cx - geo.barWidth / 2 + seg[2], y: yAxis(seg[1]), width: geo.barWidth, height: yAxis(seg[0]) - yAxis(seg[1]), fill: colors[i]}, root);
      
      
      if (dotted[i]) {
        const dots = make('rect', {x: cx - geo.barWidth / 2 + seg[2], y: yAxis(seg[1]), width: geo.barWidth, height: yAxis(seg[0]) - yAxis(seg[1]), fill: 'url(#bar-dots)'}, root);
        
        
      }
    });
    const shift = value > 2 ? geo.upperShift : 0;
    const stem = make('line', {x1: cx + shift, x2: cx + shift, y1: yAxis(value), y2: yAxis(value + errors[i]), stroke: '#111', 'stroke-width': 1.4}, root);
    
    
    const cap = make('line', {x1: cx + shift - 6, x2: cx + shift + 6, y1: yAxis(value + errors[i]), y2: yAxis(value + errors[i]), stroke: '#111', 'stroke-width': 1.4}, root);
    
    

    const catLabel = make('text', {x: cx, y: geo.labelY, 'font-size': 25, 'text-anchor': 'middle', fill: '#111'}, root);
    catLabel.textContent = name;
    
    

    if (stars[i]) {
      const star = make('text', {x: cx + shift + geo.starShift, y: yAxis(value + errors[i]) - geo.starGap, 'font-size': 30, 'font-weight': 'bold', 'text-anchor': 'middle', fill: '#000'}, root);
      star.textContent = stars[i];
      
      
    }
  });

  const rule = make('line', {x1: geo.ruleFrom, x2: geo.ruleTo, y1: 1205.7, y2: 1205.7, stroke: '#444', 'stroke-width': 1.4}, root);
  
  
  const groupLabel = make('text', {x: (geo.ruleFrom + geo.ruleTo) / 2, y: 1235, 'font-size': 25, 'text-anchor': 'middle', fill: '#111'}, root);
  groupLabel.textContent = '+A23187';
  
  
}

drawBars('chart-c', {left: 151.8, right: 569.3, y50: 839, y20: 1030, y2: 1059.3, y0: 1148.7, barWidth: 37.8, upperShift: 2, labelY: 1186.7, ruleFrom: 391.6, ruleTo: 548, starGap: 5, starShift: 0},
  categoriesC, valuesC, errorsC, starsC, ['#ff7c7c', '#960e00', '#ff7c7c', '#960e00'], [false, false, true, true]);
drawBars('chart-d', {left: 736.7, right: 1221.7, y50: 839.3, y20: 1030, y2: 1059.3, y0: 1149, barWidth: 42, upperShift: 0, labelY: 1187.7, ruleFrom: 1024.3, ruleTo: 1181, starGap: 4.5, starShift: 0},
  categoriesD, valuesD, errorsD, starsD, ['#72d0ff', '#0070c0', '#72d0ff', '#0070c0'], [false, false, true, true]);
</script>
</body>
</html>
